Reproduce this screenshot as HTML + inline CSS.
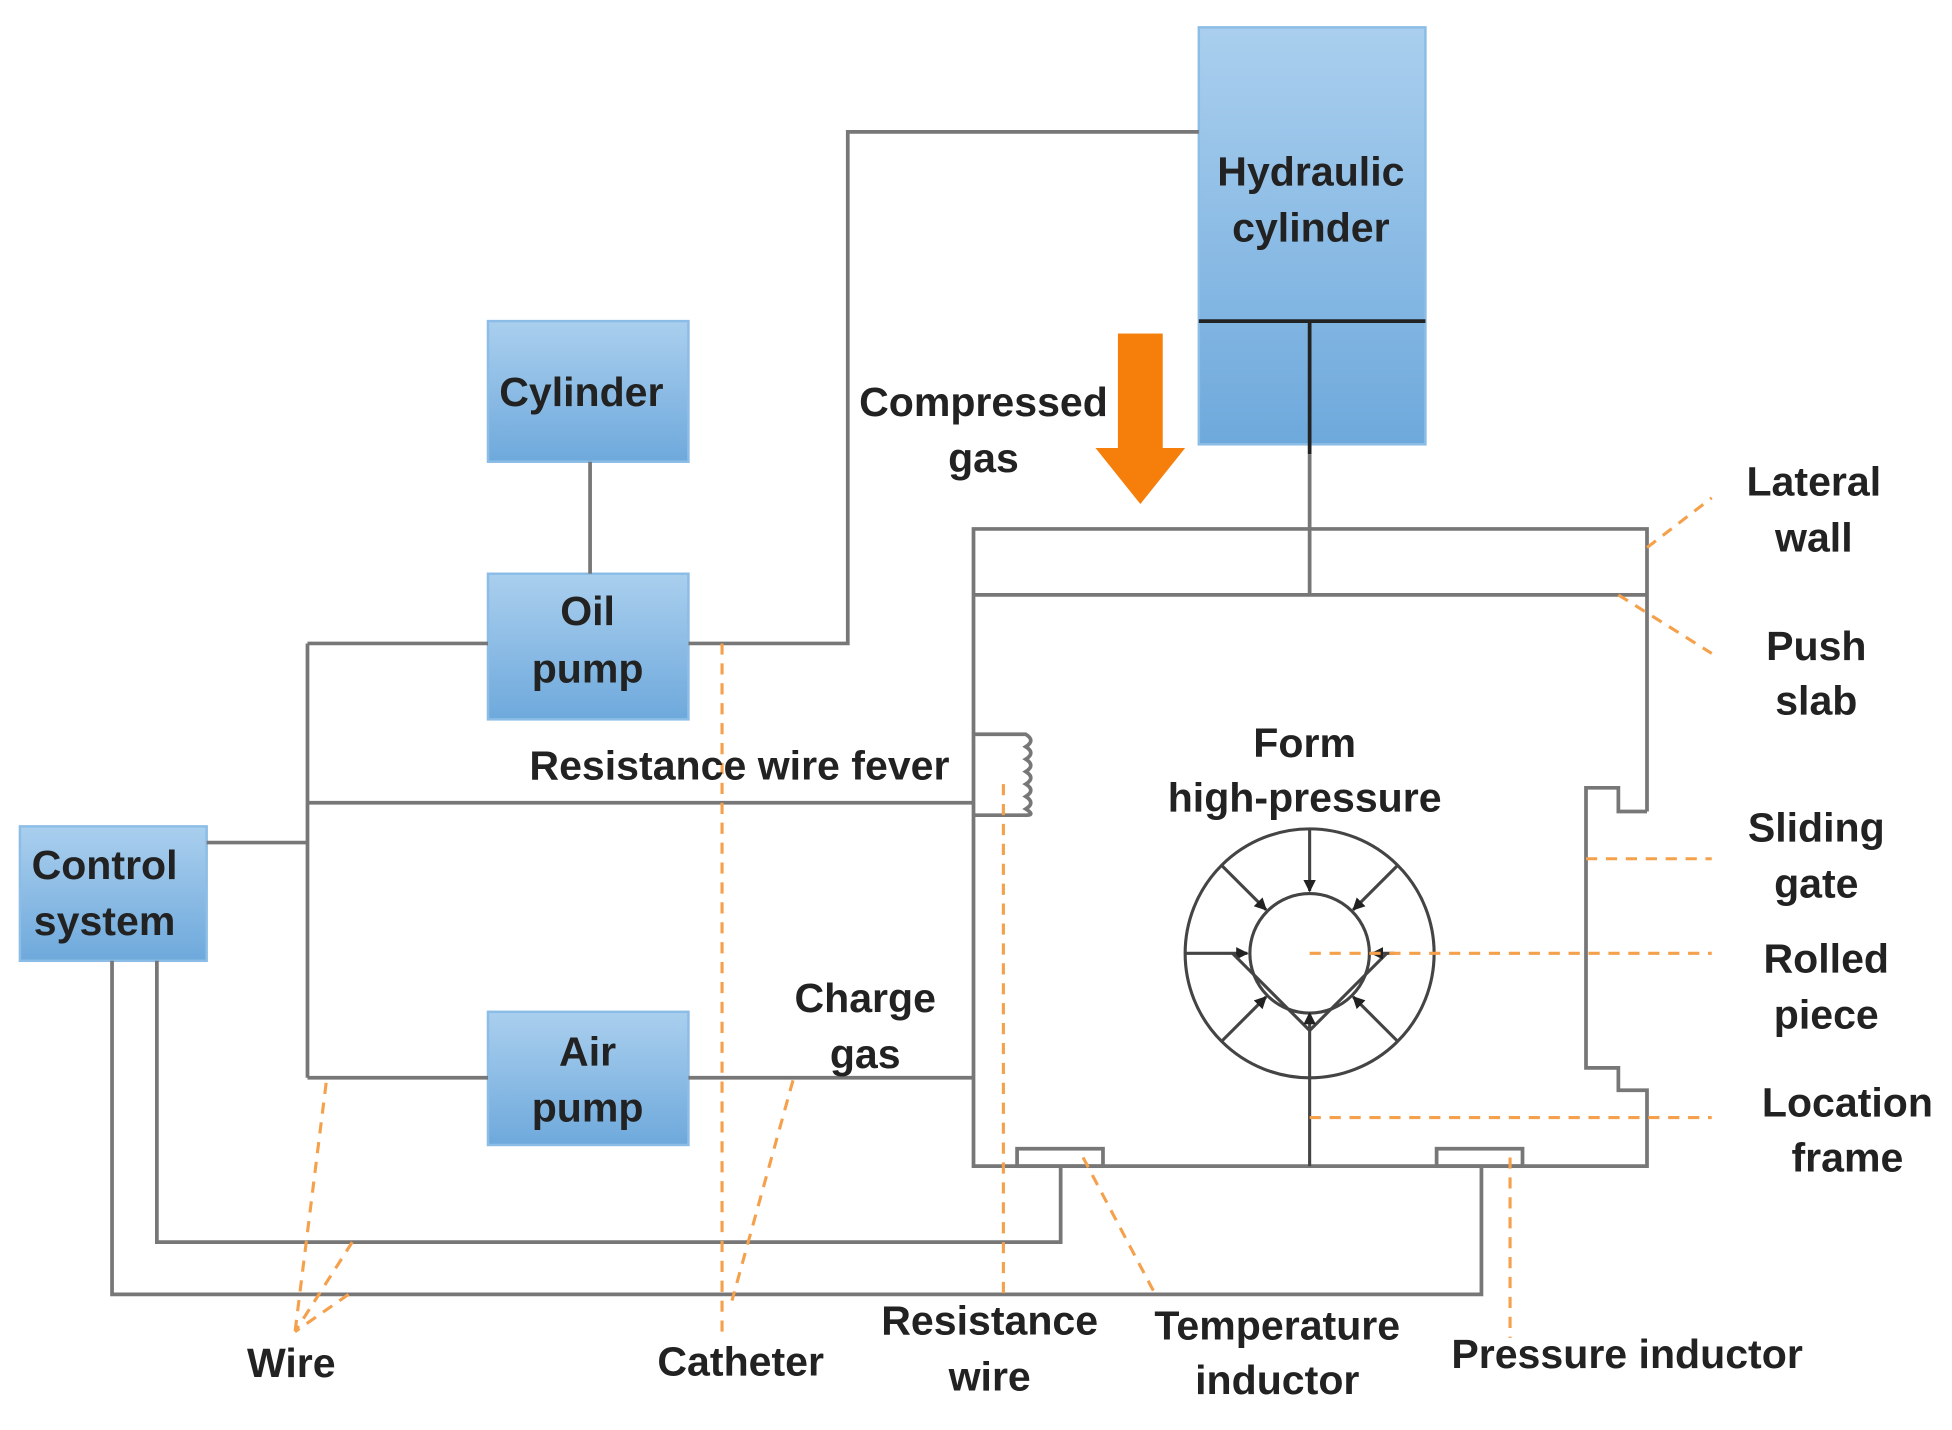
<!DOCTYPE html>
<html><head><meta charset="utf-8"><style>html,body{margin:0;padding:0;background:#fff}svg{display:block}</style></head>
<body>
<svg width="1952" height="1430" viewBox="0 0 1568 1149" preserveAspectRatio="none" xmlns="http://www.w3.org/2000/svg">
<defs>
<linearGradient id="g" x1="0" y1="0" x2="0" y2="1"><stop offset="0" stop-color="#aacfee"/><stop offset="1" stop-color="#6ea9dc"/></linearGradient>
<marker id="a" markerWidth="10" markerHeight="10" refX="9" refY="5" orient="auto" markerUnits="userSpaceOnUse"><path d="M0,0 L10,5 L0,10 Z" fill="#222"/></marker>
</defs>
<g fill="url(#g)" stroke="#8cbde6" stroke-width="2">
<rect x="963" y="22" width="182" height="335"/>
<rect x="392" y="258" width="161" height="113"/>
<rect x="392" y="461" width="161" height="117"/>
<rect x="392" y="813" width="161" height="107"/>
<rect x="16" y="664" width="150" height="108"/>
</g>
<g stroke="#222" stroke-width="3" fill="none"><line x1="963" y1="258" x2="1145" y2="258"/><line x1="1052" y1="258" x2="1052" y2="365"/></g>
<g stroke="#777" stroke-width="3" fill="none">
<line x1="1052" y1="365" x2="1052" y2="478"/>
<line x1="474" y1="371" x2="474" y2="461"/>
<polyline points="553,517 681,517 681,106 963,106"/>
<line x1="247" y1="517" x2="247" y2="866"/>
<line x1="247" y1="517" x2="392" y2="517"/>
<line x1="247" y1="866" x2="392" y2="866"/>
<line x1="166" y1="677" x2="247" y2="677"/>
<line x1="247" y1="645" x2="782" y2="645"/>
<line x1="553" y1="866" x2="782" y2="866"/>
<polyline points="1323,652 1323,425 782,425 782,937 1323,937 1323,876 1300,876 1300,858 1274,858 1274,633 1300,633 1300,652 1323,652"/>
<line x1="782" y1="478" x2="1323" y2="478"/>
<path d="M782,590 H824 q8,5 0,10 q8,5 0,10 q8,5 0,10 q8,5 0,10 q8,5 0,10 q8,5 0,10 q8,5 0,5 H782"/>
<rect x="817" y="923" width="69" height="14"/>
<rect x="1154" y="923" width="69" height="14"/>
<polyline points="126,772 126,998 852,998 852,937"/>
<polyline points="90,772 90,1040 1190,1040 1190,937"/>
</g>
<g stroke="#444" stroke-width="2.5" fill="none">
<circle cx="1052" cy="766" r="100"/><circle cx="1052" cy="766" r="48"/>
<line x1="1052" y1="828" x2="1052" y2="937"/>
<line x1="1052" y1="666" x2="1052" y2="716" marker-end="url(#a)"/>
<line x1="952" y1="766" x2="1002" y2="766" marker-end="url(#a)"/>
<line x1="981" y1="695" x2="1017" y2="731" marker-end="url(#a)"/>
<line x1="1123" y1="695" x2="1087" y2="731" marker-end="url(#a)"/>
<line x1="981" y1="837" x2="1017" y2="801" marker-end="url(#a)"/>
<line x1="1123" y1="837" x2="1087" y2="801" marker-end="url(#a)"/>
<polyline points="990,766 1052,828 1114,766"/>
<line x1="1052" y1="828" x2="1052" y2="814" marker-end="url(#a)"/>
<line x1="1120" y1="766" x2="1102" y2="766" marker-end="url(#a)"/>
</g>
<g stroke="#f5a04a" stroke-width="2.5" stroke-dasharray="9,7" fill="none">
<line x1="1323" y1="440" x2="1375" y2="400"/>
<line x1="1300" y1="478" x2="1375" y2="525"/>
<line x1="1274" y1="690" x2="1375" y2="690"/>
<line x1="1052" y1="766" x2="1375" y2="766"/>
<line x1="1052" y1="898" x2="1375" y2="898"/>
<line x1="1213" y1="930" x2="1213" y2="1075"/>
<line x1="870" y1="930" x2="928" y2="1040"/>
<line x1="806" y1="630" x2="806" y2="1045"/>
<line x1="580" y1="517" x2="580" y2="1075"/>
<line x1="637" y1="868" x2="588" y2="1045"/>
<line x1="262" y1="870" x2="237" y2="1070"/>
<line x1="283" y1="998" x2="237" y2="1070"/>
<line x1="280" y1="1040" x2="237" y2="1070"/>
</g>
<g fill="#f57f0a"><rect x="898" y="268" width="36" height="94"/><polygon points="880,360 952,360 916,405"/></g>
<g font-family="Liberation Sans, sans-serif" font-size="33" font-weight="bold" fill="#222" text-anchor="middle" dominant-baseline="central">
<text x="1053" y="138">Hydraulic</text><text x="1053" y="183">cylinder</text>
<text x="467" y="315">Cylinder</text>
<text x="472" y="491">Oil</text><text x="472" y="537">pump</text>
<text x="472" y="845">Air</text><text x="472" y="890">pump</text>
<text x="84" y="695">Control</text><text x="84" y="740">system</text>
<text x="790" y="323">Compressed</text><text x="790" y="368">gas</text>
<text x="594" y="615">Resistance wire fever</text>
<text x="1048" y="597">Form</text><text x="1048" y="641">high-pressure</text>
<text x="695" y="802">Charge</text><text x="695" y="847">gas</text>
<text x="1457" y="387">Lateral</text><text x="1457" y="432">wall</text>
<text x="1459" y="519">Push</text><text x="1459" y="563">slab</text>
<text x="1459" y="665">Sliding</text><text x="1459" y="710">gate</text>
<text x="1467" y="770">Rolled</text><text x="1467" y="815">piece</text>
<text x="1484" y="886">Location</text><text x="1484" y="930">frame</text>
<text x="234" y="1095">Wire</text>
<text x="595" y="1094">Catheter</text>
<text x="795" y="1061">Resistance</text><text x="795" y="1106">wire</text>
<text x="1026" y="1065">Temperature</text><text x="1026" y="1109">inductor</text>
<text x="1307" y="1088">Pressure inductor</text>
</g>
</svg>
</body></html>
